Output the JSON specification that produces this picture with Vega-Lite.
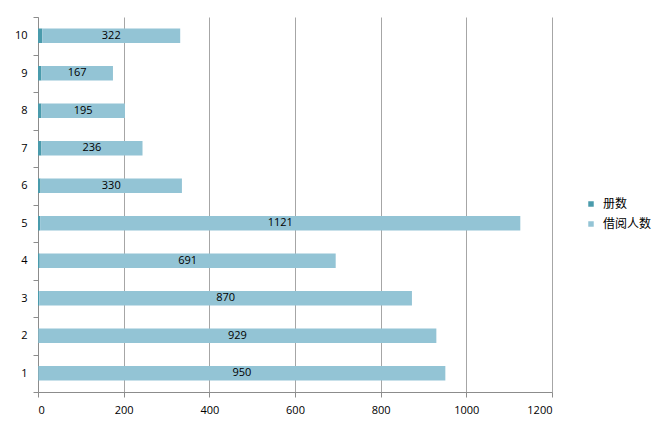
{
  "$schema": "https://vega.github.io/schema/vega-lite/v6.json",
  "autosize": "none",
  "width": 514,
  "height": 375,
  "padding": {"left": 38, "top": 17, "right": 117, "bottom": 38},
  "background": "white",
  "data": {
    "values": [
      {"k": 1, "册数": 1, "借阅人数": 950},
      {"k": 2, "册数": 1, "借阅人数": 929},
      {"k": 3, "册数": 3, "借阅人数": 870},
      {"k": 4, "册数": 4, "借阅人数": 691},
      {"k": 5, "册数": 5, "借阅人数": 1121},
      {"k": 6, "册数": 6, "借阅人数": 330},
      {"k": 7, "册数": 8, "借阅人数": 236},
      {"k": 8, "册数": 8, "借阅人数": 195},
      {"k": 9, "册数": 8, "借阅人数": 167},
      {"k": 10, "册数": 10, "借阅人数": 322}
    ]
  },
  "encoding": {
    "y": {
      "field": "k",
      "type": "ordinal",
      "sort": "descending",
      "title": null,
      "scale": {"paddingInner": 0, "paddingOuter": 0},
      "axis": {
        "tickBand": "extent",
        "labelAngle": 0,
        "labelFontSize": 11,
        "labelFont": "Open Sans",
        "labelColor": "#000000",
        "labelPadding": 6,
        "domainColor": "#8c8c8c",
        "tickColor": "#8c8c8c",
        "tickSize": 5,
        "grid": false
      }
    }
  },
  "layer": [
    {
      "transform": [{"fold": ["册数", "借阅人数"], "as": ["series", "value"]}],
      "mark": {"type": "bar", "size": 14.5},
      "encoding": {
        "x": {
          "field": "value",
          "type": "quantitative",
          "stack": "zero",
          "title": null,
          "scale": {"domain": [0, 1200], "nice": false},
          "axis": {
            "values": [0, 200, 400, 600, 800, 1000, 1200],
            "format": "d",
            "labelFontSize": 11,
            "labelFont": "Open Sans",
            "labelColor": "#000000",
            "labelPadding": 7,
            "domainColor": "#8c8c8c",
            "tickColor": "#8c8c8c",
            "tickSize": 5,
            "grid": true,
            "gridColor": "#a6a6a6",
            "gridWidth": 1
          }
        },
        "color": {
          "field": "series",
          "type": "nominal",
          "title": null,
          "scale": {"domain": ["册数", "借阅人数"], "range": ["#4A9BAC", "#93C4D5"]},
          "legend": {
            "orient": "none",
            "legendX": 547,
            "legendY": 181,
            "symbolType": "square",
            "symbolSize": 30,
            "symbolStrokeWidth": 0,
            "labelFont": "Noto Sans CJK SC",
            "labelFontSize": 12,
            "labelColor": "#000000",
            "labelOffset": 6,
            "rowPadding": 8
          }
        },
        "order": {"field": "series", "sort": "descending"}
      }
    },
    {
      "transform": [{"calculate": "datum['册数'] + datum['借阅人数'] / 2", "as": "mid"}],
      "mark": {"type": "text", "fontSize": 11, "font": "Open Sans", "color": "#000000", "align": "center", "baseline": "middle"},
      "encoding": {
        "x": {"field": "mid", "type": "quantitative"},
        "text": {"field": "借阅人数", "type": "quantitative"}
      }
    }
  ],
  "config": {
    "view": {"stroke": null}
  }
}
